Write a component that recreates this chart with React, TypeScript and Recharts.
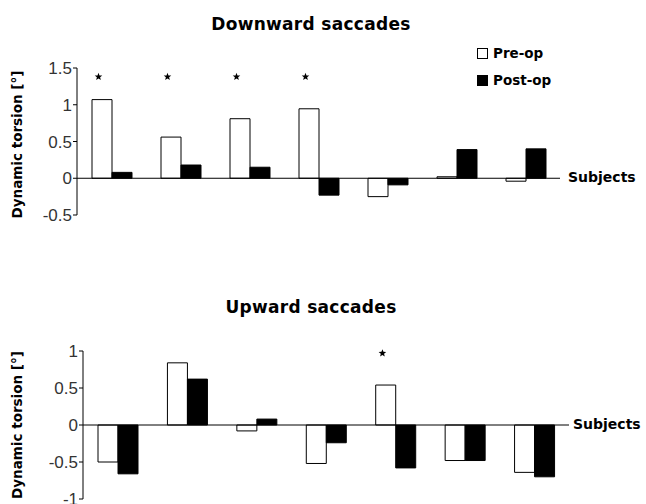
import React from 'react';
import { ComposedChart, Bar, Scatter, XAxis, YAxis, ReferenceLine } from 'recharts';

// Dynamic torsion per subject, pre- and post-operative
const subjects = ['S1', 'S2', 'S3', 'S4', 'S5', 'S6', 'S7'];
const downPre = [1.07, 0.56, 0.81, 0.945, -0.25, 0.02, -0.04];
const downPost = [0.08, 0.18, 0.15, -0.23, -0.09, 0.39, 0.4];
const downSig: (number | null)[] = [1.38, 1.38, 1.38, 1.38, null, null, null];
const upPre = [-0.5, 0.84, -0.08, -0.52, 0.54, -0.48, -0.64];
const upPost = [-0.66, 0.62, 0.08, -0.24, -0.58, -0.48, -0.7];
const upSig: (number | null)[] = [null, null, null, null, 0.97, null, null];

const downTicks = [-0.5, 0, 0.5, 1, 1.5];
const upTicks = [-1, -0.5, 0, 0.5, 1];

const seriesNames = ['Pre-op', 'Post-op'];

const buildRows = (pre: number[], post: number[], sig: (number | null)[]) =>
  subjects.map((s, i) => ({ subject: s, pre: pre[i], post: post[i], sig: sig[i] }));

const downData = buildRows(downPre, downPost, downSig);
const upData = buildRows(upPre, upPost, upSig);

const BOLD = '"DejaVu Sans", sans-serif';
const REG = '"Liberation Sans", Arial, sans-serif';

// significance marker: a small filled star, sitting over the pre-op bar
const Star = (props: any) => {
  const { cx, cy, payload } = props;
  if (payload == null || payload.sig == null || !isFinite(cx) || !isFinite(cy)) return <g />;
  const x0 = cx - 13;
  const r1 = 4;
  const r2 = 1.7;
  const pts: string[] = [];
  for (let k = 0; k < 10; k++) {
    const r = k % 2 === 0 ? r1 : r2;
    const a = -Math.PI / 2 + (k * Math.PI) / 5;
    pts.push(`${x0 + r * Math.cos(a)},${cy + r * Math.sin(a)}`);
  }
  return <polygon points={pts.join(' ')} fill="#000" />;
};

const yLabel = (centerShift: number) => (props: any) => {
  const { viewBox } = props;
  const cy = viewBox.y + viewBox.height / 2 + centerShift;
  return (
    <text
      x={17}
      y={cy}
      transform={`rotate(-90, 17, ${cy})`}
      textAnchor="middle"
      dominantBaseline="central"
      fontFamily={BOLD}
      fontWeight="bold"
      fontSize={13.5}
      fill="#000"
    >
      Dynamic torsion [°]
    </text>
  );
};

const subjectsLabel = (dx: number) => (props: any) => {
  const { viewBox } = props;
  return (
    <text
      x={viewBox.x + viewBox.width + dx}
      y={viewBox.y - 1}
      dominantBaseline="central"
      fontFamily={BOLD}
      fontWeight="bold"
      fontSize={14}
      fill="#000"
    >
      Subjects
    </text>
  );
};

const tickStyle = { fill: '#333', fontSize: 17, fontFamily: REG };

const titleStyle: React.CSSProperties = {
  position: 'absolute',
  left: 0,
  width: 622,
  textAlign: 'center',
  fontFamily: BOLD,
  fontWeight: 'bold',
  fontSize: 17,
  letterSpacing: 0.3,
  color: '#000',
  lineHeight: '20px',
};

function SeriesKey() {
  return (
    <svg
      width={100}
      height={50}
      style={{ position: 'absolute', left: 477, top: 46, overflow: 'visible' }}
    >
      <rect x={0.5} y={2.5} width={10} height={10} fill="#fff" stroke="#000" />
      <text x={16} y={12} fontFamily={BOLD} fontWeight="bold" fontSize={13.5} fill="#000">
        {seriesNames[0]}
      </text>
      <rect x={0.5} y={29.5} width={10} height={10} fill="#000" stroke="#000" />
      <text x={16} y={39} fontFamily={BOLD} fontWeight="bold" fontSize={13.5} fill="#000">
        {seriesNames[1]}
      </text>
    </svg>
  );
}

export default function App() {
  return (
    <div
      style={{
        position: 'absolute',
        left: 0,
        top: 0,
        width: 646,
        height: 504,
        background: '#fff',
        overflow: 'hidden',
      }}
    >
      <div style={{ ...titleStyle, top: 14 }}>Downward saccades</div>
      <div style={{ position: 'absolute', left: 0, top: 0 }}>
        <ComposedChart
          width={646}
          height={240}
          data={downData}
          margin={{ top: 68, right: 86, bottom: 25, left: 0 }}
          barGap={0}
        >
          <XAxis dataKey="subject" hide />
          <YAxis
            width={77}
            domain={[-0.5, 1.5]}
            ticks={downTicks}
            interval={0}
            tickSize={4}
            tickMargin={1}
            tick={tickStyle}
            axisLine={{ stroke: '#000' }}
            tickLine={{ stroke: '#000' }}
            label={yLabel(3)}
          />
          <ReferenceLine y={0} stroke="#000" label={subjectsLabel(8)} />
          <Bar dataKey="pre" name={seriesNames[0]} barSize={20} fill="#fff" stroke="#000" strokeWidth={1} isAnimationActive={false} />
          <Bar dataKey="post" name={seriesNames[1]} barSize={20} fill="#000" stroke="#000" strokeWidth={1} isAnimationActive={false} />
          <Scatter dataKey="sig" shape={Star} legendType="none" isAnimationActive={false} />
        </ComposedChart>
      </div>
      <SeriesKey />

      <div style={{ ...titleStyle, top: 297 }}>Upward saccades</div>
      <div style={{ position: 'absolute', left: 0, top: 280 }}>
        <ComposedChart
          width={646}
          height={224}
          data={upData}
          margin={{ top: 71, right: 77, bottom: 5, left: 0 }}
          barGap={0}
        >
          <XAxis dataKey="subject" hide />
          <YAxis
            width={83}
            domain={[-1, 1]}
            ticks={upTicks}
            interval={0}
            tickSize={4}
            tickMargin={1}
            tick={tickStyle}
            axisLine={{ stroke: '#000' }}
            tickLine={{ stroke: '#000' }}
            label={yLabel(0)}
          />
          <ReferenceLine y={0} stroke="#000" label={subjectsLabel(4)} />
          <Bar dataKey="pre" name={seriesNames[0]} barSize={20} fill="#fff" stroke="#000" strokeWidth={1} isAnimationActive={false} />
          <Bar dataKey="post" name={seriesNames[1]} barSize={20} fill="#000" stroke="#000" strokeWidth={1} isAnimationActive={false} />
          <Scatter dataKey="sig" shape={Star} legendType="none" isAnimationActive={false} />
        </ComposedChart>
      </div>
    </div>
  );
}
